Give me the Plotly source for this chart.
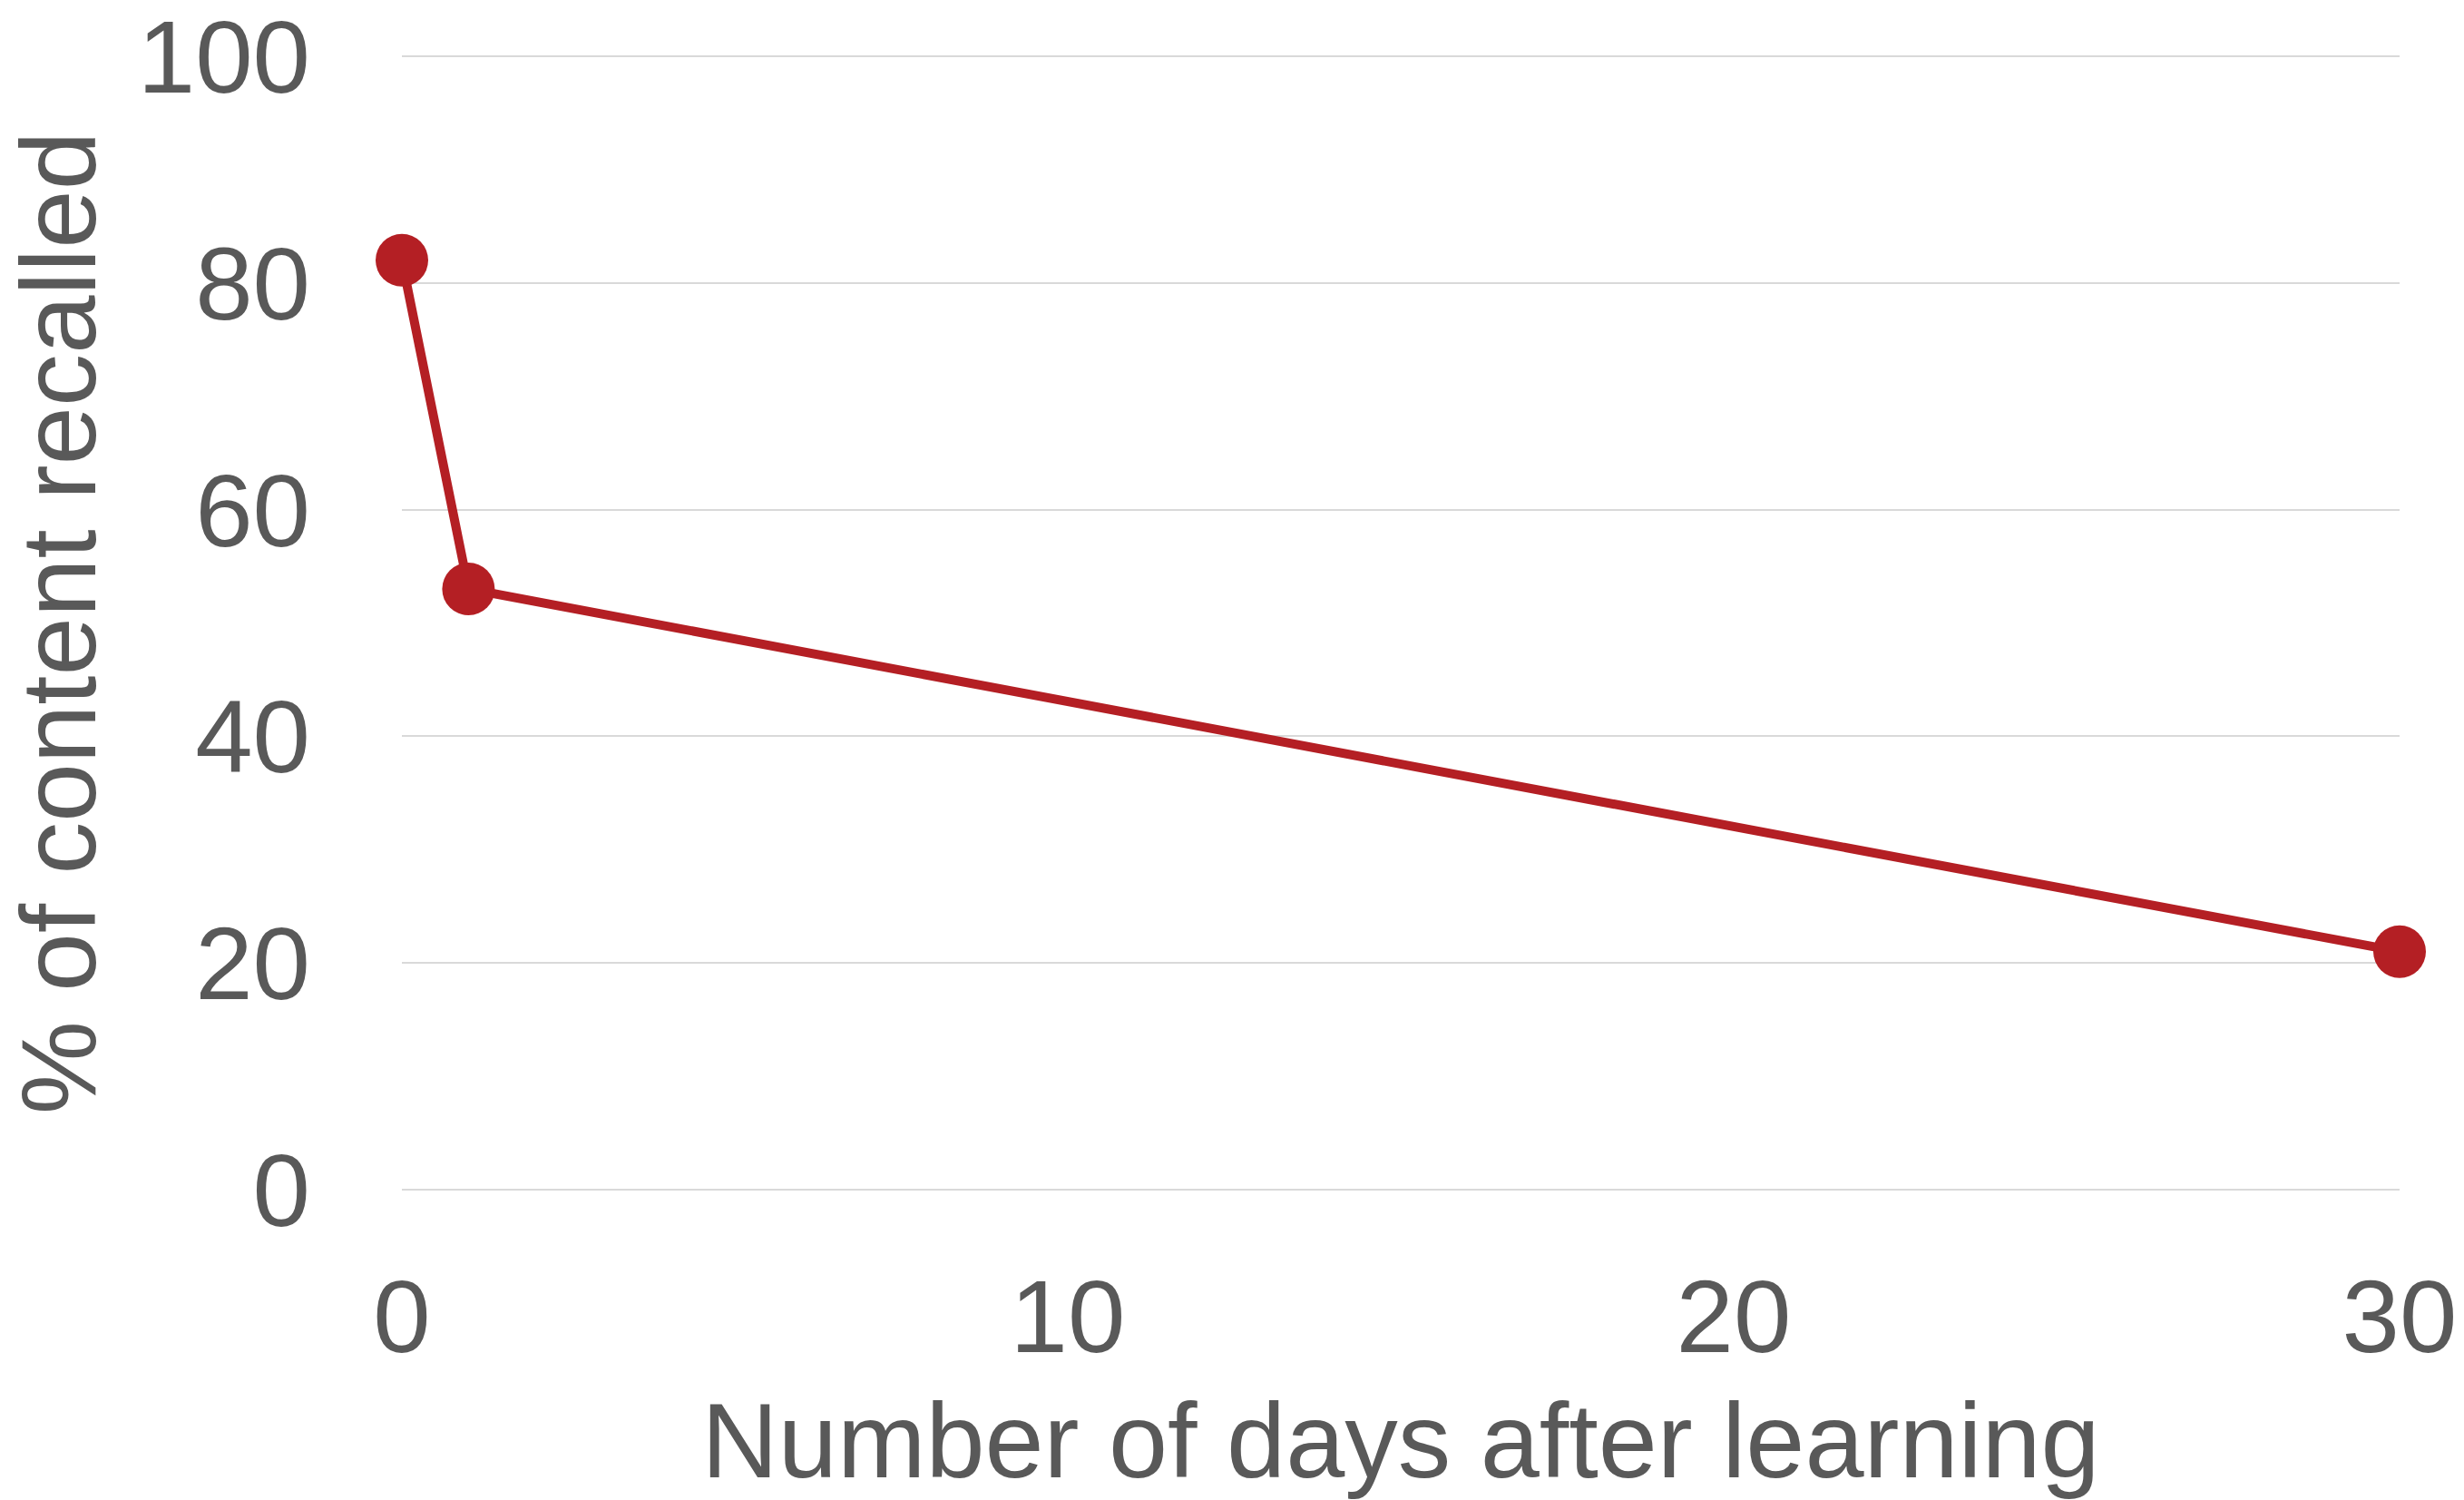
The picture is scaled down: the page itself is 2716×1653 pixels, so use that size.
import plotly.graph_objects as go

# Forgetting curve: share of content recalled after N days
days = [0, 1, 30]
recalled = [82, 53, 21]

x_ticks = [0, 10, 20, 30]
y_ticks = [0, 20, 40, 60, 80, 100]

text_color = "#595959"
line_color = "#B41F24"
font_family = "Liberation Sans, Arial, sans-serif"

fig = go.Figure()
fig.add_trace(go.Scatter(
    x=days,
    y=recalled,
    mode="lines+markers",
    line=dict(color=line_color, width=10),
    marker=dict(color=line_color, size=58),
    cliponaxis=False,
    showlegend=False,
))

fig.update_layout(
    width=2716,
    height=1653,
    margin=dict(l=443, r=71, t=60, b=340),
    paper_bgcolor="white",
    plot_bgcolor="white",
    font=dict(family=font_family, color=text_color),
)

fig.update_xaxes(
    range=[0, 30],
    tickvals=x_ticks,
    ticktext=[str(v) for v in x_ticks],
    tickfont=dict(size=114, color=text_color, family=font_family),
    ticklabelstandoff=62,
    ticklabeloverflow="allow",
    showgrid=False,
    zeroline=False,
    showline=False,
    ticks="",
    automargin=False,
    title=dict(
        text="Number of days after learning",
        font=dict(size=117, color=text_color, family=font_family),
        standoff=55,
    ),
)

# slight padding so the 0 and 100 gridlines are drawn inside the plot area
fig.update_yaxes(
    range=[-0.16, 100.16],
    tickvals=y_ticks,
    ticktext=[str(v) for v in y_ticks],
    tickfont=dict(size=114, color=text_color, family=font_family),
    ticklabelstandoff=100,
    ticklabeloverflow="allow",
    showgrid=True,
    gridcolor="#D9D9D9",
    gridwidth=2,
    zeroline=False,
    showline=False,
    ticks="",
    automargin=False,
    title=dict(
        text="% of content recalled",
        font=dict(size=116, color=text_color, family=font_family),
        standoff=57,
    ),
)

fig.write_html("out.html")
